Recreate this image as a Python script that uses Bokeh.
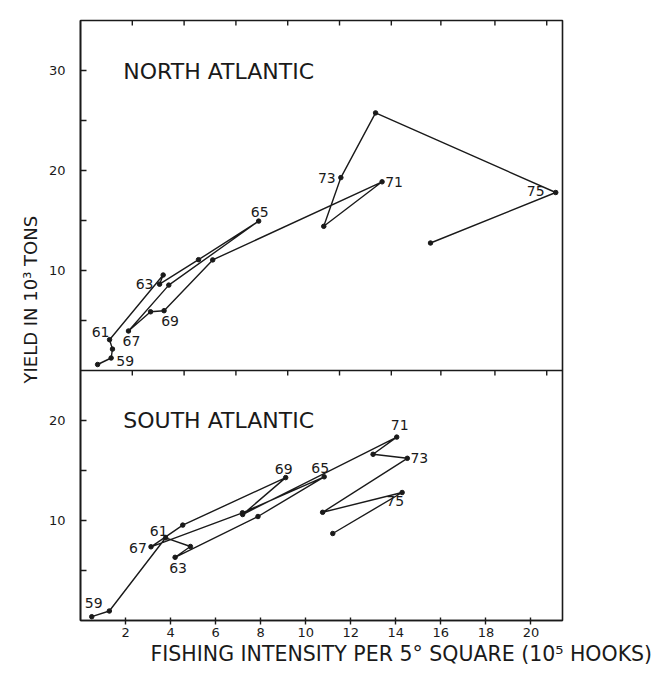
from bokeh.plotting import figure
from bokeh.models import Range1d, FixedTicker, Label, Span, ColumnDataSource, Title
from bokeh.embed import file_html
from bokeh.resources import INLINE
from bokeh.core.properties import value

# ---------------- data ----------------
# North Atlantic: fishing intensity (10^5 hooks) and yield (10^3 tons), 1958-1976
na_year = [58, 59, 60, 61, 62, 63, 64, 65, 66, 67, 68, 69, 70, 71, 72, 73, 74, 75, 76]
na_x = [0.76, 1.36, 1.42, 1.29, 3.67, 3.51, 5.24, 7.91, 3.92, 2.13, 3.11, 3.71, 5.87,
        13.39, 10.80, 11.56, 13.10, 21.10, 15.54]
na_y = [0.60, 1.25, 2.14, 3.08, 9.55, 8.63, 11.08, 14.94, 8.54, 3.95, 5.87, 5.98, 11.06,
        18.87, 14.42, 19.29, 25.76, 17.80, 12.75]

# South Atlantic, 1959-1976
sa_year = [59, 60, 61, 62, 63, 64, 65, 66, 67, 68, 69, 70, 71, 72, 73, 74, 75, 76]
sa_x = [0.50, 1.28, 3.78, 4.88, 4.20, 7.88, 10.82, 7.19, 3.13, 4.54, 9.11, 7.20,
        14.04, 12.99, 14.51, 10.75, 14.28, 11.20]
sa_y = [0.38, 0.95, 8.27, 7.40, 6.32, 10.40, 14.37, 10.77, 7.37, 9.54, 14.29, 10.60,
        18.34, 16.62, 16.22, 10.82, 12.80, 8.70]

labeled_years = [59, 61, 63, 65, 67, 69, 71, 73, 75]

x_ticks = [2, 4, 6, 8, 10, 12, 14, 16, 18, 20]
top_border_ticks = [2.3, 4.6, 6.9, 9.2, 11.5, 13.8, 16.0, 18.4, 20.7]
na_yticks = [5, 10, 15, 20, 25, 30]
na_ylabels = [10, 20, 30]
sa_yticks = [5, 10, 15, 20]
sa_ylabels = [10, 20]

NA_MAX = 35
SA_MAX = 25

# label placement (screen px offsets of label centre from its point)
na_off = {59: (14, 3), 61: (-9, -8), 63: (-15, 0), 65: (1, -9), 67: (3, 10),
          69: (6, 10), 71: (12, 0), 73: (-14, 0), 75: (-20, -2)}
sa_off = {59: (2, -14), 61: (-7, -7), 63: (3, 11), 65: (-4, -9), 67: (-13, 1),
          69: (-2, -9), 71: (3, -12), 73: (12, 0), 75: (-7, 8)}

INK = "#1a1a1a"
FONT = "DejaVu Sans"

p = figure(width=661, height=670, x_range=Range1d(0, 21.4), y_range=Range1d(0, SA_MAX + NA_MAX),
           output_backend="svg", toolbar_location=None,
           min_border_left=80, min_border_right=99, min_border_top=20, min_border_bottom=50)
p.extra_y_ranges = {"na": Range1d(-SA_MAX, NA_MAX)}
p.xgrid.visible = False
p.ygrid.visible = False
p.outline_line_color = INK
p.outline_line_width = 1.6
p.background_fill_color = "white"
p.border_fill_color = "white"

# bottom axis
p.xaxis.ticker = FixedTicker(ticks=x_ticks)
p.xaxis.axis_line_color = INK
p.xaxis.axis_line_width = 1.6
p.xaxis.major_tick_line_color = INK
p.xaxis.major_tick_line_width = 1.4
p.xaxis.major_tick_in = 3
p.xaxis.major_tick_out = 4
p.xaxis.minor_tick_line_color = None
p.xaxis.major_label_text_font = FONT
p.xaxis.major_label_text_font_size = "13px"
p.xaxis.major_label_text_color = INK
p.xaxis.major_label_standoff = 3

# left axis: the two stacked panels share one axis line
major = sa_ylabels + [t + SA_MAX for t in na_ylabels]
minor = [t for t in sa_yticks if t not in sa_ylabels] + \
        [t + SA_MAX for t in na_yticks if t not in na_ylabels]
overrides = {t: str(t) for t in sa_ylabels}
overrides.update({t + SA_MAX: str(t) for t in na_ylabels})
p.yaxis.ticker = FixedTicker(ticks=major, minor_ticks=minor)
p.yaxis.major_label_overrides = overrides
p.yaxis.axis_line_color = INK
p.yaxis.axis_line_width = 1.6
p.yaxis.major_tick_line_color = INK
p.yaxis.major_tick_line_width = 1.4
p.yaxis.major_tick_in = 6
p.yaxis.major_tick_out = 0
p.yaxis.minor_tick_line_color = INK
p.yaxis.minor_tick_line_width = 1.4
p.yaxis.minor_tick_in = 6
p.yaxis.minor_tick_out = 0
p.yaxis.major_label_text_font = FONT
p.yaxis.major_label_text_font_size = "13px"
p.yaxis.major_label_text_color = INK
p.yaxis.major_label_standoff = 15

# divider between panels, with the tick marks of the upper panel's x scale
n = len(top_border_ticks)
p.add_layout(Span(location=SA_MAX, dimension="width", line_color=INK, line_width=1.6))
p.segment(x0=top_border_ticks, x1=top_border_ticks, y0=[SA_MAX] * n,
          y1=[SA_MAX - 0.5] * n, line_color=INK, line_width=1.4)
p.segment(x0=top_border_ticks, x1=top_border_ticks, y0=[SA_MAX + NA_MAX] * n,
          y1=[SA_MAX + NA_MAX - 0.5] * n, line_color=INK, line_width=1.4)

# ---------------- series ----------------
na_src = ColumnDataSource(dict(x=na_x, y=na_y, year=na_year))
sa_src = ColumnDataSource(dict(x=sa_x, y=sa_y, year=sa_year))

p.line("x", "y", source=na_src, y_range_name="na", line_color=INK, line_width=1.4)
p.scatter("x", "y", source=na_src, y_range_name="na", size=4.5, color=INK)
p.line("x", "y", source=sa_src, line_color=INK, line_width=1.4)
p.scatter("x", "y", source=sa_src, size=4.5, color=INK)

def label_source(years, xs, ys, offs):
    d = dict(x=[], y=[], t=[], dx=[], dy=[])
    for yr, xx, yy in zip(years, xs, ys):
        if yr in labeled_years:
            d["x"].append(xx)
            d["y"].append(yy)
            d["t"].append(str(yr))
            d["dx"].append(offs[yr][0])
            d["dy"].append(offs[yr][1])
    return ColumnDataSource(d)

na_lab = label_source(na_year, na_x, na_y, na_off)
sa_lab = label_source(sa_year, sa_x, sa_y, sa_off)
p.text("x", "y", text="t", source=na_lab, y_range_name="na", x_offset="dx", y_offset="dy",
       text_align="center", text_baseline="middle", text_font=value(FONT),
       text_font_size="14px", text_color=INK)
p.text("x", "y", text="t", source=sa_lab, x_offset="dx", y_offset="dy",
       text_align="center", text_baseline="middle", text_font=value(FONT),
       text_font_size="14px", text_color=INK)

# panel titles
p.add_layout(Label(x=1.9, y=29.9, y_range_name="na", text="NORTH ATLANTIC", text_font=FONT,
                   text_font_size="22px", text_color=INK, text_baseline="middle"))
p.add_layout(Label(x=1.9, y=20.0, text="SOUTH ATLANTIC", text_font=FONT,
                   text_font_size="22px", text_color=INK, text_baseline="middle"))

# axis titles
p.add_layout(Title(text="FISHING INTENSITY PER 5\u00b0 SQUARE (10\u2075 HOOKS)", align="left",
                   offset=70, text_font=FONT, text_font_size="20.5px", text_font_style="normal",
                   text_color=INK, standoff=0), "below")
p.add_layout(Title(text="YIELD IN 10\u00b3 TONS", align="left", offset=237,
                   text_font=FONT, text_font_size="18px", text_font_style="normal",
                   text_color=INK), "left")

open("out.html", "w").write(file_html(p, INLINE))
